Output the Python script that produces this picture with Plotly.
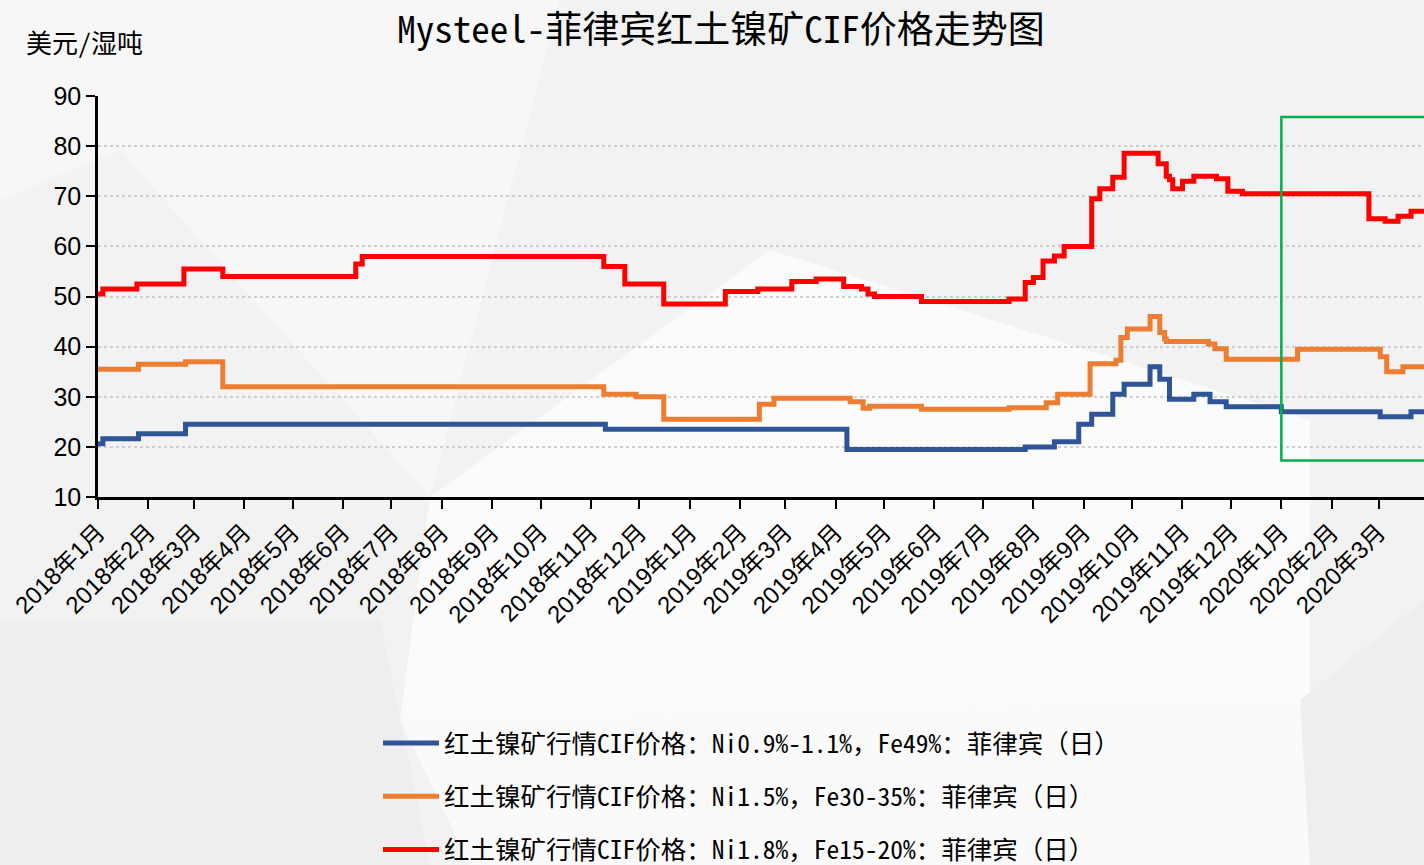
import plotly.graph_objects as go

# ---------------- data (step change points) ----------------
blue_dates = ["2018-01-01", "2018-01-04", "2018-01-26", "2018-02-24", "2018-11-10",
              "2019-04-08", "2019-07-27", "2019-08-14", "2019-08-29", "2019-09-06",
              "2019-09-19", "2019-09-26", "2019-10-12", "2019-10-18", "2019-10-24",
              "2019-11-08", "2019-11-18", "2019-11-28", "2020-01-01", "2020-03-02",
              "2020-03-21", "2020-03-31"]
blue_vals = [20.6, 21.6, 22.6, 24.5, 23.5,
             19.5, 20.0, 21.0, 24.5, 26.5,
             30.5, 32.5, 36.0, 33.5, 29.5,
             30.5, 29.0, 28.0, 27.0, 26.0,
             27.0, 27.0]

orange_dates = ["2018-01-01", "2018-01-26", "2018-02-24", "2018-03-19", "2018-11-09",
                "2018-11-29", "2018-12-16", "2019-02-13", "2019-02-22", "2019-04-10",
                "2019-04-18", "2019-04-22", "2019-05-24", "2019-07-17", "2019-08-09",
                "2019-08-16", "2019-09-05", "2019-09-21", "2019-09-24", "2019-09-28",
                "2019-10-12", "2019-10-18", "2019-10-21", "2019-10-22", "2019-11-17",
                "2019-11-21", "2019-11-28", "2020-01-11", "2020-03-02", "2020-03-06",
                "2020-03-16", "2020-03-31"]
orange_vals = [35.5, 36.5, 37.0, 32.0, 30.5,
               30.0, 25.5, 28.5, 29.7, 29.0,
               27.7, 28.1, 27.5, 27.8, 28.8,
               30.5, 36.6, 37.3, 41.8, 43.5,
               46.0, 42.8, 41.5, 41.0, 40.5,
               39.6, 37.5, 39.5, 38.0, 35.0,
               36.0, 36.0]

red_dates = ["2018-01-01", "2018-01-04", "2018-01-25", "2018-02-23", "2018-03-19",
             "2018-06-09", "2018-06-13", "2018-11-09", "2018-11-22", "2018-12-16",
             "2019-01-23", "2019-02-12", "2019-03-05", "2019-03-20", "2019-04-06",
             "2019-04-17", "2019-04-21", "2019-04-25", "2019-05-24", "2019-07-17",
             "2019-07-27", "2019-08-01", "2019-08-07", "2019-08-14", "2019-08-20",
             "2019-09-06", "2019-09-11", "2019-09-19", "2019-09-26", "2019-10-17",
             "2019-10-22", "2019-10-24", "2019-10-26", "2019-11-01", "2019-11-08",
             "2019-11-22", "2019-11-29", "2019-12-08", "2020-02-24", "2020-03-05",
             "2020-03-13", "2020-03-21", "2020-03-31"]
red_vals = [50.5, 51.5, 52.5, 55.5, 54.0,
            56.5, 58.0, 56.0, 52.5, 48.5,
            51.0, 51.5, 53.0, 53.5, 52.0,
            51.5, 50.5, 50.0, 49.0, 49.5,
            52.8, 53.8, 57.1, 58.1, 60.0,
            69.5, 71.5, 73.8, 78.6, 76.5,
            74.0, 73.3, 71.5, 73.0, 74.0,
            73.5, 71.0, 70.5, 65.5, 65.0,
            66.0, 67.0, 67.0]

series_names = [
    "红土镍矿行情CIF价格：Ni0.9%-1.1%，Fe49%：菲律宾（日）",
    "红土镍矿行情CIF价格：Ni1.5%，Fe30-35%：菲律宾（日）",
    "红土镍矿行情CIF价格：Ni1.8%，Fe15-20%：菲律宾（日）",
]

tick_dates = ["2018-%02d-01" % m for m in range(1, 13)] + \
             ["2019-%02d-01" % m for m in range(1, 13)] + \
             ["2020-01-01", "2020-02-01", "2020-03-01"]
tick_labels = ["2018年%d月" % m for m in range(1, 13)] + \
              ["2019年%d月" % m for m in range(1, 13)] + \
              ["2020年1月", "2020年2月", "2020年3月"]

title_text = "Mysteel-菲律宾红土镍矿CIF价格走势图"
unit_text = "美元/湿吨"

highlight_x0 = "2020-01-01"
highlight_x1 = "2020-06-30"
highlight_y0 = 17.3
highlight_y1 = 85.8

# ---------------- figure ----------------
W, H = 1424, 865
L, R, T, B = 98, 0, 96, 368
PW, PH = W - L - R, H - T - B

def px(xpix):
    return (xpix - L) / PW

def py(ypix):
    return (H - B - ypix) / PH

MONO_CJK = "Noto Sans Mono CJK SC, DejaVu Sans Mono, Noto Sans CJK SC, sans-serif"
TICK_FONT = "Liberation Sans, Arial, Noto Sans CJK SC, sans-serif"

colors = ["#2f5597", "#ed7d31", "#ff0000"]
fig = go.Figure()
for name, xs, ys, c, g in zip(series_names,
                              [blue_dates, orange_dates, red_dates],
                              [blue_vals, orange_vals, red_vals],
                              colors, ["a", "b", "c"]):
    fig.add_trace(go.Scatter(x=xs, y=ys, mode="lines", name=name,
                             line=dict(color=c, width=5, shape="hv"),
                             legendgroup=g))

# background geometric watermark
bg_polys = [
    ("#f7f7f7", [(0, 0), (560, 0), (430, 497), (120, 150), (0, 200)]),
    ("#fbfbfb", [(430, 497), (770, 250), (1310, 420), (1310, 700), (400, 720)]),
    ("#fafafa", [(400, 720), (1310, 700), (1424, 720), (1424, 865), (470, 865)]),
    ("#eeeeee", [(1300, 700), (1424, 600), (1424, 865), (1310, 865)]),
    ("#eeeeee", [(0, 620), (380, 620), (430, 865), (0, 865)]),
]
shapes = []
for col, pts in bg_polys:
    path = "M " + " L ".join("%.4f,%.4f" % (px(x), py(y)) for x, y in pts) + " Z"
    shapes.append(dict(type="path", path=path, xref="paper", yref="paper",
                       fillcolor=col, line=dict(width=0), layer="below"))

shapes.append(dict(type="rect", xref="x", yref="y",
                   x0=highlight_x0, x1=highlight_x1, y0=highlight_y0, y1=highlight_y1,
                   line=dict(color="#00b050", width=2.5), fillcolor="rgba(0,0,0,0)",
                   layer="above"))

fig.update_layout(
    width=W, height=H,
    margin=dict(l=L, r=R, t=T, b=B, autoexpand=False),
    paper_bgcolor="#f2f2f2",
    plot_bgcolor="rgba(0,0,0,0)",
    shapes=shapes,
    title=dict(text=title_text, x=721 / W, xanchor="center",
               y=1 - 30 / H, yanchor="middle", yref="container",
               font=dict(family=MONO_CJK, size=37, color="#000000")),
    showlegend=True,
    legend=dict(x=px(378), xanchor="left", y=py(720), yanchor="top",
                orientation="v", bgcolor="rgba(0,0,0,0)", itemwidth=56,
                tracegroupgap=17,
                font=dict(family=MONO_CJK, size=25.5, color="#000000")),
    annotations=[dict(text=unit_text, xref="paper", yref="paper",
                      x=px(24), y=py(41), xanchor="left", yanchor="middle",
                      showarrow=False,
                      font=dict(family=MONO_CJK, size=26, color="#000000"))],
)

fig.update_xaxes(type="date", range=["2018-01-01", "2020-03-29"],
                 tickmode="array", tickvals=tick_dates, ticktext=tick_labels,
                 tickangle=-45, ticks="outside", ticklen=9, tickwidth=1.5,
                 tickcolor="#000000", showline=True, linecolor="#000000",
                 linewidth=2.5, showgrid=False, zeroline=False,
                 tickfont=dict(family=TICK_FONT, size=24, color="#000000"))
fig.update_yaxes(range=[10, 90], dtick=10, ticks="outside", ticklen=9,
                 tickwidth=1.5, tickcolor="#000000", showline=True,
                 linecolor="#000000", linewidth=2.5, zeroline=False,
                 showgrid=True, gridcolor="#cfcfcf", griddash="dot", gridwidth=1.5,
                 tickfont=dict(family=TICK_FONT, size=25, color="#000000"))

fig.write_html("out.html",
               config={"displayModeBar": False},
               post_script="document.body.style.margin='0px';"
                           "document.body.style.overflow='hidden';")
